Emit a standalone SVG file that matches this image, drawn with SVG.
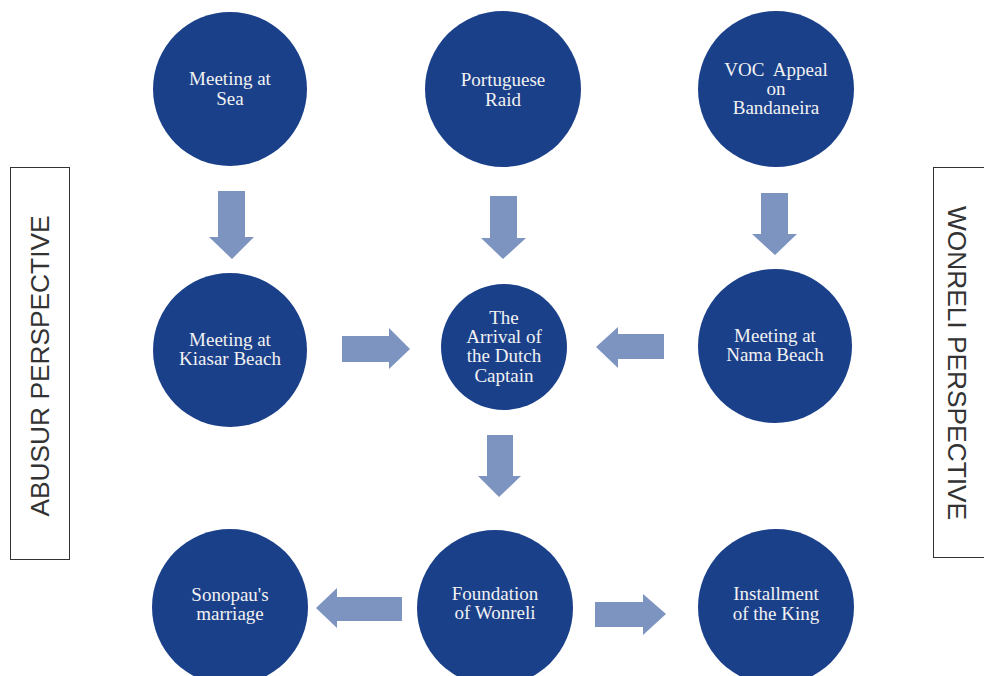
<svg xmlns="http://www.w3.org/2000/svg" width="984" height="676" viewBox="0 0 984 676">
<style>
.node circle{fill:#1b408a}
.node text{font-family:"Liberation Serif","Times New Roman",serif;font-size:19px;fill:#f2f2f2;text-anchor:middle}
.arrow{fill:#7d94c0}
.box rect{fill:#ffffff;stroke:#333333;stroke-width:1}
.box text{font-family:"Liberation Sans",Arial,sans-serif;font-size:26.3px;fill:#333333;text-anchor:middle}
</style>
<rect width="984" height="676" fill="#ffffff"/>
<g id="abusur" class="box">
<rect x="10.5" y="167.5" width="59" height="392"/>
<text transform="translate(49,366) rotate(-90)">ABUSUR PERSPECTIVE</text>
</g>
<g id="wonreli" class="box">
<rect x="933.5" y="167.5" width="60" height="390"/>
<text transform="translate(948,363) rotate(90)">WONRELI PERSPECTIVE</text>
</g>
<g id="connectors">
<polygon class="arrow" points="218,191 245,191 245,237 254,237 232,259 209,237 218,237"/>
<polygon class="arrow" points="490,196 517,196 517,238 526,238 503,259 481,238 490,238"/>
<polygon class="arrow" points="761,193 788,193 788,234 797,234 775,255 752,234 761,234"/>
<polygon class="arrow" points="342,336 389,336 389,328 410,349 389,369 389,362 342,362"/>
<polygon class="arrow" points="664,334 618,334 618,327 596,347 618,368 618,359 664,359"/>
<polygon class="arrow" points="487,435 513,435 513,476 521,476 499,497 478,476 487,476"/>
<polygon class="arrow" points="402,597 337,597 337,588 316,608 337,628 337,621 402,621"/>
<polygon class="arrow" points="595,602 643,602 643,594 666,614 643,635 643,627 595,627"/>
</g>
<g id="n1" class="node"><circle cx="230" cy="89" r="77"/><text x="230" y="85">Meeting at</text><text x="230" y="105">Sea</text></g>
<g id="n2" class="node"><circle cx="503" cy="89" r="78"/><text x="503" y="86">Portuguese</text><text x="503" y="106">Raid</text></g>
<g id="n3" class="node"><circle cx="776" cy="89" r="78"/><text x="776" y="76" xml:space="preserve">VOC  Appeal</text><text x="776" y="95">on</text><text x="776" y="114">Bandaneira</text></g>
<g id="n4" class="node"><circle cx="230" cy="350" r="77"/><text x="230" y="346">Meeting at</text><text x="230" y="365">Kiasar Beach</text></g>
<g id="n5" class="node"><circle cx="504" cy="347" r="63"/><text x="504" y="324">The</text><text x="504" y="343">Arrival of</text><text x="504" y="362">the Dutch</text><text x="504" y="382">Captain</text></g>
<g id="n6" class="node"><circle cx="775" cy="346" r="77"/><text x="775" y="342">Meeting at</text><text x="775" y="361">Nama Beach</text></g>
<g id="n7" class="node"><circle cx="230" cy="607" r="78"/><text x="230" y="601">Sonopau's</text><text x="230" y="620">marriage</text></g>
<g id="n8" class="node"><circle cx="495" cy="608" r="78"/><text x="495" y="600">Foundation</text><text x="495" y="619">of Wonreli</text></g>
<g id="n9" class="node"><circle cx="776" cy="607" r="78"/><text x="776" y="600">Installment</text><text x="776" y="620">of the King</text></g>
</svg>
